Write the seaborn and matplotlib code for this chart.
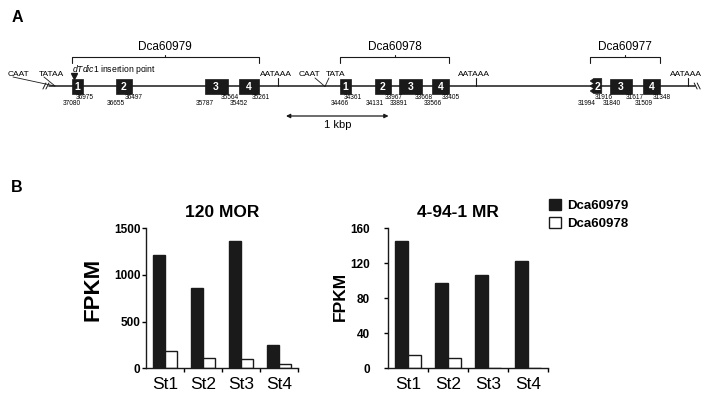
import numpy as np
import pandas as pd
import matplotlib
matplotlib.use("Agg")
import matplotlib.pyplot as plt
import seaborn as sns
from matplotlib.patches import Rectangle, Polygon, Patch

sns.set_style("ticks")
plt.rcParams['font.family'] = ['Liberation Sans', 'DejaVu Sans']
plt.rcParams['mathtext.fontset'] = 'custom'
plt.rcParams['mathtext.rm'] = 'Liberation Sans'
plt.rcParams['mathtext.it'] = 'Liberation Sans:italic'
for key in ['text.color', 'axes.labelcolor', 'xtick.color', 'ytick.color']:
    plt.rcParams[key] = 'black'

BLACK = '#1a1a1a'

#%% data - panel A (genomic coordinates, bp)
gene_names = ['Dca60979', 'Dca60978', 'Dca60977']
gene_spans = [(37080, 35261), (34466, 33405), (32030, 31348)]
exons = [
    [(37080, 36975), (36655, 36497), (35787, 35564), (35452, 35261)],
    [(34466, 34361), (34131, 33967), (33891, 33668), (33566, 33405)],
    [(31994, 31916), (31840, 31617), (31509, 31348)],
]
exon_numbers = [[1, 2, 3, 4], [1, 2, 3, 4], [2, 3, 4]]
polya_sites = [35072, 33145, 31079]
insertion_point = 37065
line_start, line_end = 37300, 31010
scale_bar = (34994, 33994)

#%% data - panel B
stages = ['St1', 'St2', 'St3', 'St4']
genes = ['Dca60979', 'Dca60978']
mor_60979 = [1210, 860, 1360, 250]
mor_60978 = [185, 112, 100, 45]
mr_60979 = [146, 97, 107, 123]
mr_60978 = [15, 12, 0, 0]

df_mor = pd.DataFrame({'stage': stages * 2, 'gene': [genes[0]] * 4 + [genes[1]] * 4,
                       'fpkm': mor_60979 + mor_60978})
df_mr = pd.DataFrame({'stage': stages * 2, 'gene': [genes[0]] * 4 + [genes[1]] * 4,
                      'fpkm': mr_60979 + mr_60978})

fig = plt.figure(figsize=(7.12, 4.03), dpi=100)

#%% panel A: gene structure (x in bp, y in pixels from top)
ax_a = fig.add_axes([0, 0, 1, 1])
ax_a.set_xlim(37781.9, 30841)
ax_a.set_ylim(403, 0)
ax_a.axis('off')
px = 9.75  # bp per pixel

line_y = 86
ax_a.plot([line_start, line_end], [line_y, line_y], color=BLACK, lw=1.1, zorder=1)

# break marks
for xb in [line_start + 5 * px, line_start + 2 * px]:
    ax_a.plot([xb + 1.5 * px, xb - 1.5 * px], [89, 83], color=BLACK, lw=0.7)
for xb in [line_end - 1 * px, line_end - 4 * px]:
    ax_a.plot([xb + 1.5 * px, xb - 1.5 * px], [83, 89], color=BLACK, lw=0.7)

# promoter elements, left
ax_a.text(37600, 74, 'CAAT', fontsize=6, ha='center', va='center')
ax_a.text(37280, 74, 'TATAA', fontsize=6, ha='center', va='center')
ax_a.plot([37655, 37246], [77, 86], color=BLACK, lw=0.6)
ax_a.plot([37353, 37246], [77, 86], color=BLACK, lw=0.6)

# promoter elements, middle
ax_a.text(34760, 74, 'CAAT', fontsize=6, ha='center', va='center')
ax_a.text(34506, 74, 'TATA', fontsize=6, ha='center', va='center')
ax_a.plot([34711, 34614], [78, 86.5], color=BLACK, lw=0.6)
ax_a.plot([34575, 34614], [78, 86.5], color=BLACK, lw=0.6)

# polyA signals
for site in polya_sites:
    ax_a.plot([site, site], [78, line_y], color=BLACK, lw=0.8)
    ax_a.text(site + 20, 74, 'AATAAA', fontsize=6, ha='center', va='center')

# exons
for g, gene_exons in enumerate(exons):
    for (start, end), num in zip(gene_exons, exon_numbers[g]):
        start_nudge = 0
        if g == 2 and num == 2:
            # partial exon with jagged left edge
            pts = [(end, 78.5), (start, 78.5)]
            ys = np.arange(78.5, 93.6, 2.5)
            for i, yy in enumerate(ys):
                pts.append((start + (3.5 * px if i % 2 else 0), yy))
            pts += [(start, 93.5), (end, 93.5)]
            ax_a.add_patch(Polygon(pts, closed=True, facecolor=BLACK, edgecolor=BLACK, lw=0.5, zorder=2))
            start_nudge = 7 * px
        else:
            ax_a.add_patch(Rectangle((end, 78.5), start - end, 15, facecolor=BLACK,
                                     edgecolor=BLACK, lw=0.5, zorder=2))
        if g == 2 and num == 3:
            start_nudge = -2 * px
        ax_a.text((start + end) / 2, 86.5, str(num), color='white', fontsize=7.5,
                  weight='bold', ha='center', va='center', zorder=3)
        ax_a.text(end - 2 * px, 97.5, str(end), fontsize=4.7, ha='center', va='center')
        ax_a.text(start + start_nudge, 103.5, str(start), fontsize=4.7, ha='center', va='center')

# gene brackets
for name, (start, end) in zip(gene_names, gene_spans):
    mid = (start + end) / 2
    ax_a.plot([start, start, end, end], [62.5, 57, 57, 62.5], color=BLACK, lw=0.8)
    ax_a.plot([mid, mid], [57, 54.5], color=BLACK, lw=0.8)
    ax_a.text(mid, 47.5, name, fontsize=8.5, ha='center', va='center')

# insertion point
ax_a.plot(insertion_point, 75.5, marker='v', ms=4.5, color=BLACK, lw=0)
ax_a.text(37080, 69.5, r'$\it{dTdic1}$ insertion point', fontsize=6.2, ha='left', va='center')

# scale bar
ax_a.annotate('', xy=(scale_bar[1], 116), xytext=(scale_bar[0], 116),
              arrowprops=dict(arrowstyle='<|-|>', lw=0.9, color=BLACK, mutation_scale=6,
                              shrinkA=0, shrinkB=0))
ax_a.text(np.mean(scale_bar), 125.5, '1 kbp', fontsize=8, ha='center', va='center')

# panel letters
fig.text(17 / 712, 1 - 17 / 403, 'A', fontsize=11.5, weight='bold', ha='center', va='center')
fig.text(17 / 712, 1 - 187 / 403, 'B', fontsize=11.5, weight='bold', ha='center', va='center')

#%% panel B: bar charts
ax_l = fig.add_axes([146 / 712, 34.7 / 403, 152 / 712, 140 / 403])
ax_r = fig.add_axes([388 / 712, 34.7 / 403, 160 / 712, 140 / 403])

panels = [
    (ax_l, df_mor, '120 MOR', [0, 500, 1000, 1500], 0.5, (-0.349, 0.566), 16, 1.0),
    (ax_r, df_mr, '4-94-1 MR', [0, 40, 80, 120, 160], 0.44, (-0.30, 0.51), 12.5, 10.0),
]
for ax, df, title, yticks, tx, lab_xy, lab_fs, ypad in panels:
    sns.barplot(data=df, x='stage', y='fpkm', hue='gene', palette=[BLACK, 'white'],
                edgecolor=BLACK, linewidth=1, width=0.64, ax=ax, legend=False)
    ax.set_xlim(-0.5, 3.5)
    ax.set_ylim(0, yticks[-1])
    ax.set_yticks(yticks)
    ax.set_xticks([0.5, 1.5, 2.5, 3.5], minor=True)
    ax.tick_params(axis='x', which='major', length=0, pad=6, labelsize=12.5)
    ax.tick_params(axis='x', which='minor', length=3, width=1, direction='out')
    ax.tick_params(axis='y', length=3, width=1, pad=ypad, labelsize=8.5)
    for lbl in ax.get_yticklabels():
        lbl.set_fontweight('bold')
    ax.set_xlabel('')
    ax.set_ylabel('FPKM', fontsize=lab_fs, weight='bold')
    ax.yaxis.set_label_coords(*lab_xy)
    ax.yaxis.label.set_verticalalignment('center')
    ax.set_title(title, fontsize=12.5, weight='bold', x=tx, y=1.08, pad=0)
    ax.spines['right'].set_visible(False)
    ax.spines['top'].set_visible(False)
    ax.spines['left'].set_linewidth(1)
    ax.spines['bottom'].set_linewidth(1)
    ax.spines['left'].set_color(BLACK)
    ax.spines['bottom'].set_color(BLACK)

handles = [Patch(facecolor=BLACK, edgecolor=BLACK, lw=1),
           Patch(facecolor='white', edgecolor=BLACK, lw=1)]
fig.legend(handles, genes, loc='upper left', bbox_to_anchor=(549 / 712, 1 - 199 / 403),
           frameon=False, borderpad=0, borderaxespad=0, handlelength=0.9, handleheight=0.9,
           handletextpad=0.45, labelspacing=0.4, prop={'size': 9.5, 'weight': 'bold'})

plt.savefig('out.png', dpi=100)
